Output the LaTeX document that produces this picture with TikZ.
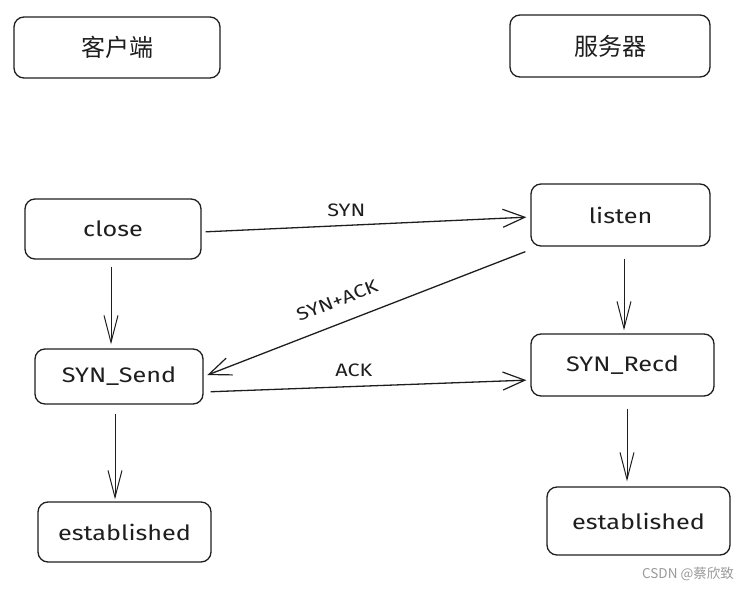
\documentclass[tikz,border=0pt]{standalone}
\usepackage{fontspec}
\setmainfont{Fira Sans}[FakeStretch=1.2]
\newfontfamily\cjk{Noto Sans CJK SC}
\usetikzlibrary{arrows.meta}
\definecolor{ink}{HTML}{1E1E1E}
\begin{document}
\begin{tikzpicture}[x=1pt,y=-1pt,
  box/.style={draw=ink, line width=1.3pt, rounded corners=10pt, inner sep=0pt,
    font=\fontsize{21}{24}\selectfont, text=ink},
  cjkbox/.style={box, font=\cjk\fontsize{24}{28}\selectfont},
  hconn/.style={draw=ink, line width=1.3pt, -{Straight Barb[length=22pt,width=18pt,line width=1.2pt]}},
  vconn/.style={draw=ink, line width=0.9pt, -{Straight Barb[length=27pt,width=14pt,line width=1pt]}},
  lbl/.style={font=\fontsize{18}{21}\selectfont, text=ink}]
\useasboundingbox (0,0) rectangle (752,591);
\node[cjkbox, minimum width=206pt, minimum height=61pt] (client) at (117,47.5) {客户端};
\node[cjkbox, minimum width=200pt, minimum height=62pt] (server) at (610,46) {服务器};
\node[box, minimum width=176pt, minimum height=60pt] (close) at (113,229) {close};
\node[box, minimum width=179pt, minimum height=62pt] (listen) at (620.5,215) {listen};
\node[box, minimum width=168pt, minimum height=55pt] (send) at (119,376.5) {SYN\_Send};
\node[box, minimum width=183pt, minimum height=62pt] (recd) at (622.5,365) {SYN\_Recd};
\node[box, minimum width=173pt, minimum height=60pt] (est1) at (124.5,532) {established};
\node[box, minimum width=183pt, minimum height=68pt] (est2) at (638.5,521) {established};
% connectors
\draw[hconn, shorten <=4pt, shorten >=4pt] ([yshift=-3pt]close.east) -- node[lbl, above=5pt, pos=0.44] {SYN} ([yshift=-2pt]listen.west);
\draw[hconn, shorten <=0pt, shorten >=4pt] ([xshift=-5pt,yshift=-5pt]listen.south west) -- node[lbl, above=12pt, pos=0.56, sloped] {SYN+ACK} (send.east);
\draw[hconn, shorten <=7pt, shorten >=4pt] ([yshift=-15.5pt]send.east) -- node[lbl, above=6pt, pos=0.46] {ACK} ([yshift=-15pt]recd.west);
\draw[vconn, shorten <=7pt, shorten >=4pt] ([xshift=-2pt]close.south) -- ([xshift=-8pt]send.north);
\draw[vconn, shorten <=12pt, shorten >=3pt] ([xshift=3.5pt]listen.south) -- ([xshift=1.5pt]recd.north);
\draw[vconn, shorten <=9pt, shorten >=2pt] ([xshift=-4pt]send.south) -- ([xshift=-9.5pt]est1.north);
\draw[vconn, shorten <=12pt, shorten >=5pt] ([xshift=4.5pt]recd.south) -- ([xshift=-11.5pt]est2.north);
\node[font=\cjk\fontsize{13.5}{15}\selectfont, text=black!40] (wm) at (688,574) {CSDN @蔡欣致};
\end{tikzpicture}
\end{document}
